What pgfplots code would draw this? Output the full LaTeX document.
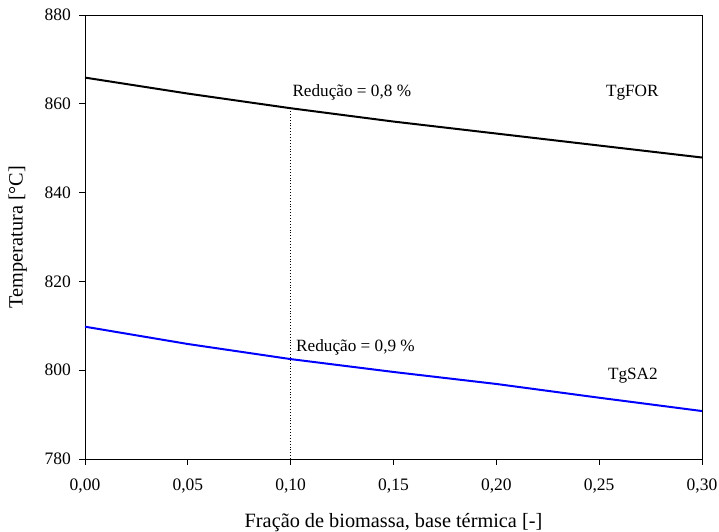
\documentclass[border=0pt]{standalone}
\usepackage{pgfplots}
\pgfplotsset{compat=1.18}
\usepackage{fontspec}
\setmainfont{Liberation Serif}
\begin{document}
\begin{tikzpicture}[x=1bp,y=1bp]
\useasboundingbox (-85bp,-73bp) rectangle (634bp,459bp);
\begin{axis}[
  at={(0,0)}, anchor=south west,
  scale only axis, width=617bp, height=444bp,
  xmin=0, xmax=0.30, ymin=780, ymax=880,
  xtick={0,0.05,...,0.30}, ytick={780,800,...,880},
  xtick pos=left, ytick pos=left, tick align=outside,
  major tick length=6bp,
  axis line style={line width=0.9bp},
  every tick/.style={line width=0.9bp, black},
  xticklabel={\pgfmathprintnumber[fixed, fixed zerofill, precision=2, use comma, assume math mode=true]{\tick}},
  yticklabel={\pgfmathprintnumber[fixed, precision=0, assume math mode=true]{\tick}},
  scaled x ticks=false,
  tick label style={font=\fontsize{17.5bp}{20bp}\selectfont, inner sep=0pt},
  x tick label style={anchor=base, yshift=-25bp},
  y tick label style={anchor=east, xshift=-8bp},
  xlabel={Fração de biomassa, base térmica [-]},
  ylabel={Temperatura [°C]},
  label style={font=\fontsize{20.3bp}{23bp}\selectfont, inner sep=0pt},
  xlabel style={at={(axis description cs:0.5,-0.1554)}, anchor=base},
  ylabel style={at={(axis description cs:-0.10097,0.5)}, anchor=base},
  clip=false,
]
\addplot[black, line width=2bp] coordinates {
 (0.00,865.9) (0.05,862.3) (0.10,859.0) (0.15,856.0) (0.20,853.3) (0.25,850.6) (0.30,847.9)};
\addplot[blue, line width=2bp] coordinates {
 (0.00,809.8) (0.05,805.9) (0.10,802.5) (0.15,799.6) (0.20,796.9) (0.25,793.8) (0.30,790.8)};
\addplot[black, dotted, line width=0.9bp] coordinates {(0.10,780) (0.10,858.3)};
\node[anchor=base west, font=\fontsize{17.2bp}{20bp}\selectfont, inner sep=0pt] at (axis cs:0.1008,861.7) {Redução = 0,8 \%};
\node[anchor=base west, font=\fontsize{17.2bp}{20bp}\selectfont, inner sep=0pt] at (axis cs:0.1026,804.15) {Redução = 0,9 \%};
\node[anchor=base, font=\fontsize{17.2bp}{20bp}\selectfont, inner sep=0pt] at (axis cs:0.2661,861.7) {TgFOR};
\node[anchor=base, font=\fontsize{17.2bp}{20bp}\selectfont, inner sep=0pt] at (axis cs:0.2664,797.9) {TgSA2};
\end{axis}
\end{tikzpicture}
\end{document}
